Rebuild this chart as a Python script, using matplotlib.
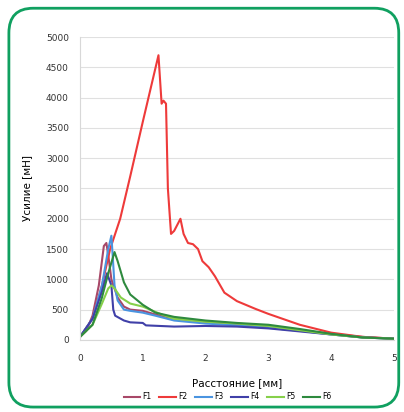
import matplotlib
matplotlib.use("Agg")
import matplotlib.pyplot as plt
from matplotlib.patches import FancyBboxPatch

# distance [mm] / force [mN]
f1_x = [0, 0.1, 0.2, 0.3, 0.38, 0.42, 0.45, 0.5, 0.6, 0.7, 0.8, 1.0, 1.2, 1.5, 2, 2.5, 3, 3.5, 4, 4.5, 5]
f1_y = [50, 150, 400, 900, 1550, 1600, 1400, 1000, 700, 550, 500, 480, 420, 350, 300, 260, 220, 160, 100, 50, 20]

f2_x = [0, 0.2, 0.35, 0.48, 0.64, 0.8, 1.0, 1.25, 1.3, 1.33, 1.37, 1.4, 1.45, 1.5, 1.6, 1.65, 1.72, 1.8, 1.88,
        1.95, 2.05, 2.15, 2.3, 2.5, 2.8, 3.0, 3.5, 4.0, 4.5, 5.0]
f2_y = [50, 350, 900, 1500, 2000, 2700, 3600, 4700, 3900, 3950, 3900, 2500, 1750, 1800, 2000, 1750, 1600, 1580,
        1500, 1300, 1200, 1050, 780, 640, 510, 430, 250, 120, 50, 20]

f3_x = [0, 0.2, 0.35, 0.45, 0.5, 0.52, 0.55, 0.6, 0.7, 0.8, 1.0, 1.2, 1.5, 2, 2.5, 3, 3.5, 4, 4.5, 5]
f3_y = [50, 350, 900, 1500, 1720, 1400, 900, 650, 500, 480, 450, 400, 320, 270, 240, 200, 150, 90, 40, 20]

f4_x = [0, 0.2, 0.35, 0.43, 0.5, 0.53, 0.56, 0.7, 0.8, 1.0, 1.05, 1.5, 2, 2.5, 3, 3.5, 4, 4.5, 5]
f4_y = [50, 350, 800, 1100, 900, 500, 400, 320, 290, 280, 240, 220, 230, 220, 190, 140, 90, 40, 20]

f5_x = [0, 0.2, 0.35, 0.45, 0.5, 0.55, 0.65, 0.8, 1.0, 1.3, 1.5, 2, 2.5, 3, 3.5, 4, 4.5, 5]
f5_y = [50, 250, 600, 850, 900, 850, 700, 600, 550, 420, 350, 300, 270, 230, 160, 90, 40, 20]

f6_x = [0, 0.2, 0.35, 0.45, 0.55, 0.6, 0.7, 0.8, 1.0, 1.2, 1.5, 2, 2.5, 3, 3.5, 4, 4.5, 5]
f6_y = [50, 250, 700, 1100, 1450, 1300, 950, 750, 580, 450, 380, 320, 280, 250, 180, 100, 40, 20]

names = ["F1", "F2", "F3", "F4", "F5", "F6"]
colors = ["#a84868", "#ee3a3a", "#4a94e0", "#4040a8", "#86d04a", "#2e8a3e"]
series = [(f1_x, f1_y), (f2_x, f2_y), (f3_x, f3_y), (f4_x, f4_y), (f5_x, f5_y), (f6_x, f6_y)]

fig = plt.figure(figsize=(4.04, 4.12), dpi=100)

# green rounded frame
frame = FancyBboxPatch((0.022, 0.012), 0.965, 0.968, boxstyle="round,pad=0,rounding_size=0.06",
                       transform=fig.transFigure, fill=False, edgecolor="#10a060", linewidth=2)
fig.patches.append(frame)

ax = fig.add_axes([0.198, 0.175, 0.777, 0.735])
for (x, y), c, n in zip(series, colors, names):
    ax.plot(x, y, color=c, linewidth=1.5, label=n)

ax.set_xlim(0, 5)
ax.set_ylim(0, 5000)
ax.set_yticks(range(0, 5001, 500))
ax.set_xticks(range(0, 6))
ax.grid(axis="y", color="#e0e0e0", linewidth=0.8)
ax.set_axisbelow(True)
for s in ["top", "right"]:
    ax.spines[s].set_visible(False)
for s in ["left", "bottom"]:
    ax.spines[s].set_color("#d8d8d8")
ax.tick_params(length=0, labelsize=6.5, colors="#333333")
ax.tick_params(axis="x", pad=10)
ax.tick_params(axis="y", pad=8)

ax.set_xlabel("Расстояние [мм]", fontsize=7.5, labelpad=11)
ax.set_ylabel("Усилие [мН]", fontsize=7.5, labelpad=10)

ax.legend(loc="upper center", bbox_to_anchor=(0.47, -0.15), ncol=6, frameon=False, fontsize=5.5,
          handlelength=2.2, handletextpad=0.3, columnspacing=1.0)

fig.savefig("out.png", dpi=100)
